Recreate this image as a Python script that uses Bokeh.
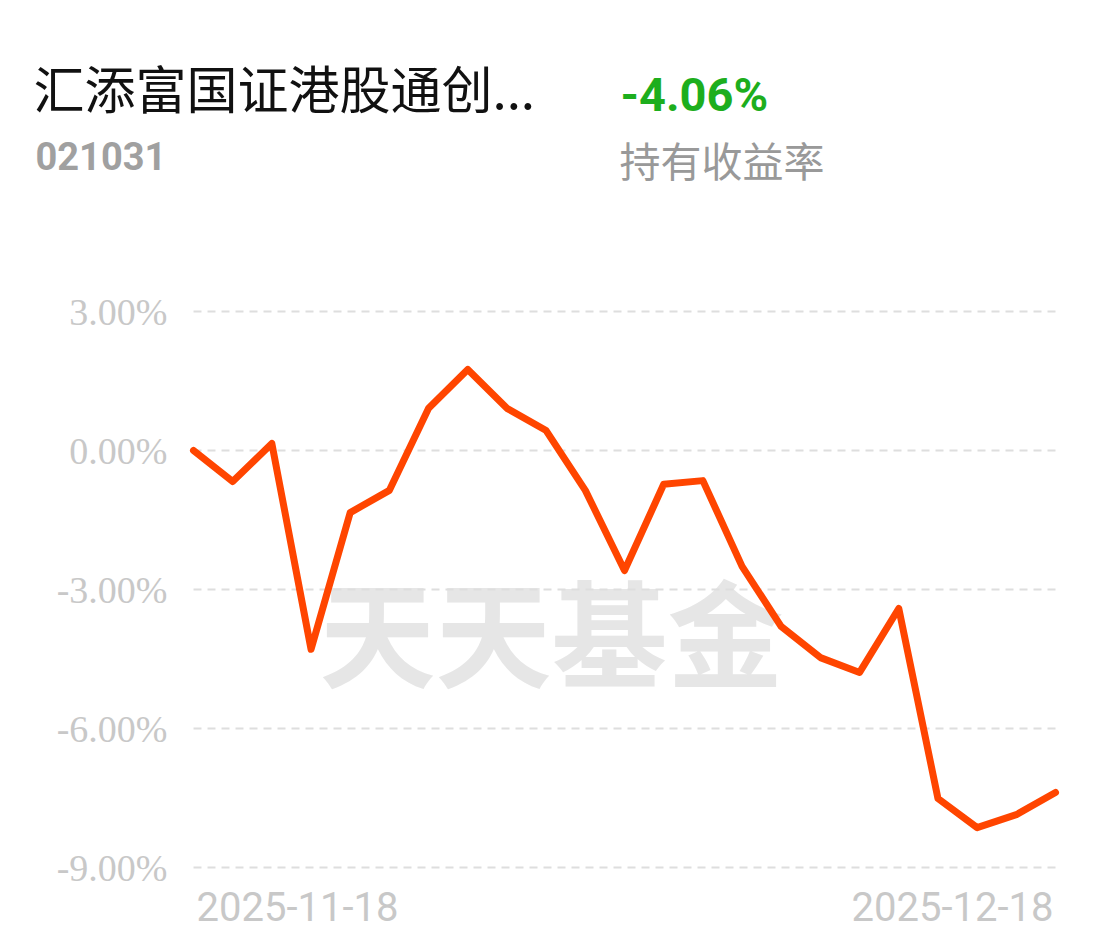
from bokeh.plotting import figure
from bokeh.models import Label, Range1d
from bokeh.embed import file_html
from bokeh.resources import INLINE

# ---- data ----
dates = ["2025-11-18", "2025-11-19", "2025-11-20", "2025-11-21", "2025-11-24",
         "2025-11-25", "2025-11-26", "2025-11-27", "2025-11-28", "2025-12-01",
         "2025-12-02", "2025-12-03", "2025-12-04", "2025-12-05", "2025-12-08",
         "2025-12-09", "2025-12-10", "2025-12-11", "2025-12-12", "2025-12-15",
         "2025-12-16", "2025-12-17", "2025-12-18"]
returns = [0.00, -0.67, 0.15, -4.29, -1.34, -0.86, 0.91, 1.75, 0.91, 0.43,
           -0.86, -2.59, -0.73, -0.65, -2.50, -3.80, -4.47, -4.79, -3.41,
           -7.51, -8.14, -7.86, -7.38]
y_ticks = [3, 0, -3, -6, -9]
y_tick_labels = ["3.00%", "0.00%", "-3.00%", "-6.00%", "-9.00%"]
fund_name = "汇添富国证港股通创..."
fund_code = "021031"
holding_return = "-4.06%"
holding_label = "持有收益率"
watermark = "天天基金"
x_labels = [dates[0], dates[-1]]

idx = list(range(len(dates)))

# ---- layout (pixels) ----
W, H = 1094, 943
plot_left, plot_right = 193, 1055      # x pixels of first / last point
grid_top, grid_bottom = 311, 867       # y pixels of top / bottom gridline
n = len(dates) - 1
xs = (plot_right - plot_left) / n
x0 = 0 - plot_left / xs
x1 = n + (W - plot_right) / xs
ys = (grid_bottom - grid_top) / (max(y_ticks) - min(y_ticks))
y1 = max(y_ticks) + grid_top / ys
y0 = min(y_ticks) - (H - grid_bottom) / ys

p = figure(width=W, height=H, output_backend="svg", toolbar_location=None,
           x_range=Range1d(x0, x1), y_range=Range1d(y0, y1),
           min_border=0)
p.outline_line_color = None
p.background_fill_color = "white"
p.border_fill_color = "white"
p.xaxis.visible = False
p.yaxis.visible = False
p.grid.visible = False

# gridlines and y tick labels
p.segment(x0=[idx[0]] * len(y_ticks), x1=[idx[-1]] * len(y_ticks), y0=y_ticks, y1=y_ticks,
          line_color="#dedede", line_width=2, line_dash="8 6")
p.text(x=[idx[0]] * len(y_ticks), y=y_ticks, text=y_tick_labels, x_offset=-26,
       text_font="Roboto", text_font_size="38px", text_color="#c8c8c8",
       text_align="right", text_baseline="middle")

# watermark (screen units, origin bottom-left)
p.add_layout(Label(x=551, y=316, x_units="screen", y_units="screen", text=watermark,
                   text_font="Noto Sans CJK SC", text_font_style="bold",
                   text_font_size="116px", text_color="#e6e6e6",
                   text_align="center", text_baseline="middle", level="image"))

p.line(idx, returns, line_color="#FF4500", line_width=7,
       line_join="round", line_cap="round")

# x labels
p.add_layout(Label(x=idx[0], y=37, y_units="screen", text=x_labels[0], x_offset=3,
                   text_font="Roboto", text_font_size="40px", text_color="#c8c8c8",
                   text_align="left", text_baseline="middle"))
p.add_layout(Label(x=idx[-1], y=37, y_units="screen", text=x_labels[1], x_offset=-2,
                   text_font="Roboto", text_font_size="40px", text_color="#c8c8c8",
                   text_align="right", text_baseline="middle"))

# header
p.add_layout(Label(x=33, y=857, x_units="screen", y_units="screen", text=fund_name,
                   text_font="Noto Sans CJK SC", text_font_size="51px", text_color="#111111",
                   text_align="left", text_baseline="middle"))
p.add_layout(Label(x=35, y=788, x_units="screen", y_units="screen", text=fund_code,
                   text_font="Roboto", text_font_style="bold", text_font_size="38px",
                   text_color="#a0a0a0", text_align="left", text_baseline="middle"))
p.add_layout(Label(x=620, y=849, x_units="screen", y_units="screen", text=holding_return,
                   text_font="Roboto", text_font_style="bold", text_font_size="47px",
                   text_color="#1DAE1D", text_align="left", text_baseline="middle"))
p.add_layout(Label(x=619, y=785, x_units="screen", y_units="screen", text=holding_label,
                   text_font="Noto Sans CJK SC", text_font_size="41px",
                   text_color="#999999", text_align="left", text_baseline="middle"))

open("out.html", "w").write(file_html(p, INLINE))
